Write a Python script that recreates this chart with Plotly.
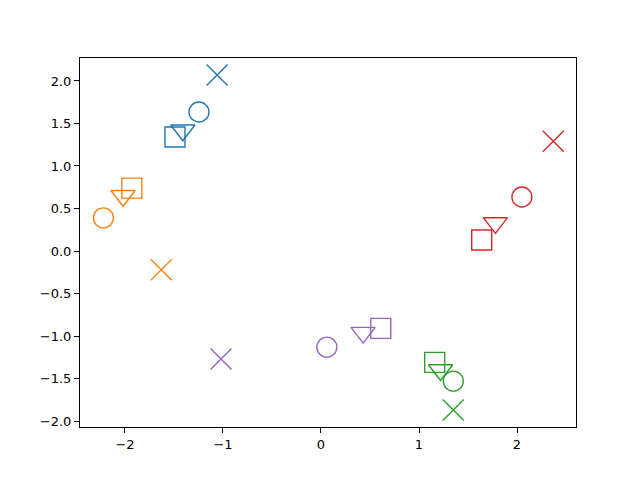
import plotly.graph_objects as go

colors = ["#1f77b4", "#ff7f0e", "#2ca02c", "#d62728", "#9467bd"]

circle_x = [-1.245, -2.22, 1.35, 2.05, 0.06]
circle_y = [1.635, 0.39, -1.53, 0.635, -1.13]
tri_x = [-1.41, -2.02, 1.22, 1.78, 0.43]
tri_y = [1.42, 0.65, -1.40, 0.33, -0.96]
sq_x = [-1.49, -1.93, 1.16, 1.64, 0.61]
sq_y = [1.34, 0.74, -1.31, 0.13, -0.91]
cross_x = [-1.06, -1.63, 1.35, 2.37, -1.02]
cross_y = [2.07, -0.22, -1.87, 1.29, -1.27]

x_ticks = [-2, -1, 0, 1, 2]
y_ticks = [-2.0, -1.5, -1.0, -0.5, 0.0, 0.5, 1.0, 1.5, 2.0]

fig = go.Figure()
marker_sets = [
    (circle_x, circle_y, "circle-open", 20),
    (tri_x, tri_y, "triangle-down-open", 21),
    (sq_x, sq_y, "square-open", 20),
    (cross_x, cross_y, "x-thin-open", 21),
]
for xs, ys, sym, size in marker_sets:
    fig.add_trace(go.Scatter(
        x=xs, y=ys, mode="markers",
        marker=dict(symbol=sym, size=size, color=colors,
                    line=dict(width=1.4, color=colors)),
        showlegend=False, hoverinfo="skip",
    ))

axis_common = dict(
    showgrid=False, zeroline=False, showline=True, linecolor="black",
    linewidth=1, mirror=True, ticks="outside", ticklen=5, tickwidth=1,
    tickcolor="black", tickfont=dict(family="DejaVu Sans", size=13, color="black"),
)
fig.update_layout(
    width=632, height=472,
    margin=dict(l=72, r=64, t=50, b=53),
    paper_bgcolor="white", plot_bgcolor="white",
    xaxis=dict(range=[-2.459, 2.602], tickvals=x_ticks,
               ticktext=["\u2212" + str(abs(v)) if v < 0 else str(v) for v in x_ticks],
               **axis_common),
    yaxis=dict(range=[-2.07, 2.27], tickvals=y_ticks,
               ticktext=[("\u2212" if v < 0 else "") + f"{abs(v):.1f}" for v in y_ticks],
               **axis_common),
)
fig.write_html("out.html")
